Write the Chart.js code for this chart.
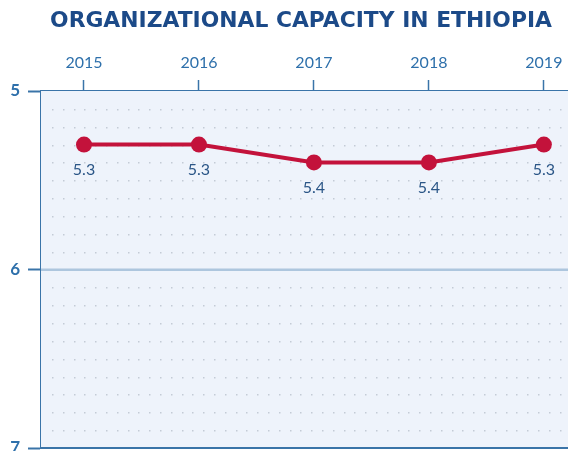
<!DOCTYPE html>
<html>
<head>
<meta charset="utf-8">
<script src="https://cdn.jsdelivr.net/npm/chart.js@4/dist/chart.umd.min.js"></script>
<style>
  html, body { margin:0; padding:0; background:#fff; }
  #wrap { width:568px; height:451px; }
</style>
</head>
<body>
<div id="wrap"><canvas id="c" width="568" height="451"></canvas></div>
<script>
const chartTitle = "ORGANIZATIONAL CAPACITY IN ETHIOPIA";
const years  = [2015, 2016, 2017, 2018, 2019];
const scores = [5.3, 5.3, 5.4, 5.4, 5.3];
const scoreLabels = ["5.3", "5.3", "5.4", "5.4", "5.3"];
const yTicks = [5, 6, 7];

const AXIS = "#3a74a8";
const BLUE_TXT = "#2e70ab";
const RED = "#c3123b";

// title drawn by hand so it can sit off-centre like the original
const titleText = {
  id: "titleText",
  afterDraw(chart){
    const { ctx } = chart;
    ctx.save();
    let size = 20;
    ctx.font = `bold ${size}px "DejaVu Sans"`;
    const w = ctx.measureText(chartTitle).width;
    size = size * 502 / w;
    ctx.font = `bold ${size}px "DejaVu Sans"`;
    ctx.fillStyle = "#1c4a88";
    ctx.textAlign = "center";
    ctx.textBaseline = "middle";
    ctx.fillText(chartTitle, 301, 21);
    ctx.restore();
  }
};

// plot background + dotted rows, drawn before the line
const plotDeco = {
  id: "plotDeco",
  beforeDatasetsDraw(chart){
    const { ctx, chartArea:a, scales } = chart;
    const y = scales.y;
    ctx.save();
    ctx.fillStyle = "#eef3fb";
    ctx.fillRect(a.left, a.top, a.right - a.left, a.bottom - a.top);
    ctx.fillStyle = "#c3cbd6";
    for (let i = 1; i < 20; i++){
      if (i === 10) continue;
      const py = Math.round(y.getPixelForValue(5 + i/10));
      for (let px = a.left + 11; px < a.right; px += 10.8){
        ctx.fillRect(Math.round(px), py, 1.5, 1.5);
      }
    }
    const p6 = y.getPixelForValue(6);
    ctx.fillStyle = "#adc6de";
    ctx.fillRect(a.left, p6 - 1, a.right - a.left, 2.5);
    ctx.fillStyle = AXIS;
    ctx.fillRect(a.left - 1, a.bottom - 1, a.right - a.left + 1, 2);
    ctx.restore();
  }
};

const valueLabels = {
  id: "valueLabels",
  afterDatasetsDraw(chart){
    const { ctx } = chart;
    const meta = chart.getDatasetMeta(0);
    ctx.save();
    ctx.font = "16px Lato";
    ctx.fillStyle = "#2b5687";
    ctx.textAlign = "center";
    ctx.textBaseline = "middle";
    meta.data.forEach((pt, i) => {
      ctx.fillText(scoreLabels[i], pt.x, pt.y + 25);
    });
    ctx.restore();
  }
};

new Chart(document.getElementById("c"), {
  type: "line",
  data: {
    datasets: [{
      data: years.map((yr, i) => ({ x: yr, y: scores[i] })),
      borderColor: RED,
      backgroundColor: RED,
      borderWidth: 4,
      pointRadius: 8,
      pointBackgroundColor: RED,
      pointBorderWidth: 0,
      tension: 0,
      clip: false
    }]
  },
  options: {
    responsive: false,
    animation: false,
    layout: { autoPadding: false, padding: { top: 0, right: 0, bottom: 3, left: 0 } },
    plugins: {
      legend: { display: false },
      tooltip: { enabled: false },
      title: { display: false }
    },
    scales: {
      x: {
        type: "linear",
        position: "top",
        min: 2014.626,
        max: 2019.21,
        afterBuildTicks: s => { s.ticks = years.map(v => ({ value: v })); },
        afterFit: s => { s.height = 91; s.paddingLeft = 0; s.paddingRight = 0; },
        ticks: {
          color: BLUE_TXT,
          font: { family: "Lato", size: 16 },
          padding: 8,
          maxRotation: 0,
          callback: v => String(v)
        },
        grid: { drawOnChartArea: false, drawTicks: true, tickLength: 11, tickColor: AXIS, tickWidth: 1.5 },
        border: { display: true, color: AXIS, width: 2 }
      },
      y: {
        reverse: true,
        min: 5,
        max: 7,
        afterBuildTicks: s => { s.ticks = yTicks.map(v => ({ value: v })); },
        afterFit: s => { s.width = 41; s.paddingTop = 0; s.paddingBottom = 0; },
        ticks: {
          color: BLUE_TXT,
          font: { family: "Lato", size: 17, weight: "bold" },
          padding: 8
        },
        grid: { drawOnChartArea: false, drawTicks: true, tickLength: 13, tickColor: AXIS, tickWidth: 2 },
        border: { display: true, color: AXIS, width: 2 }
      }
    }
  },
  plugins: [plotDeco, valueLabels, titleText]
});
</script>
</body>
</html>
